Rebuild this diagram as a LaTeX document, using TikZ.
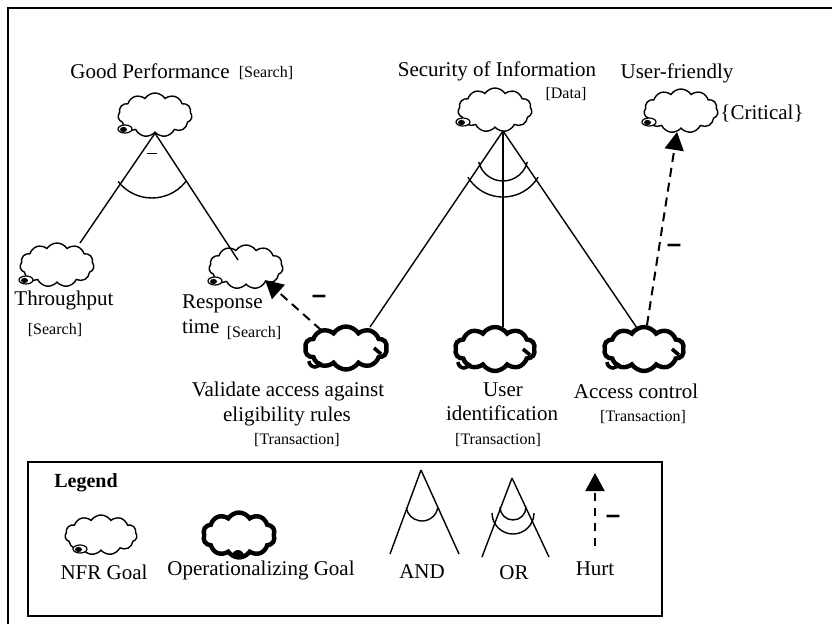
\documentclass[tikz,border=0pt]{standalone}
\usepackage{fontspec}
\setmainfont{Liberation Serif}
\newfontfamily\signfont{Liberation Sans}
\usetikzlibrary{shapes.symbols,arrows.meta,calc}

% small curl drawn at the lower left of an NFR softgoal cloud
\newcommand\nfrcurl[1]{%
  \draw[line width=1.2pt, fill=white] #1 ellipse (7 and 4);
  \fill #1 ++(-1.5,0.5) ellipse (3.5 and 2.6);
}

\begin{document}
\begin{tikzpicture}[x=1pt,y=-1pt,
  txt/.style={font=\fontsize{21}{23}\selectfont, inner sep=0pt},
  tag/.style={font=\fontsize{16}{18}\selectfont, inner sep=0pt},
  nfr/.style={cloud, cloud puffs=11, cloud puff arc=115, draw, line width=1.4pt,
              inner sep=0pt, minimum width=74pt, minimum height=44pt},
  opgoal/.style={nfr, line width=4.4pt, cloud puffs=10},
  link/.style={line width=1.4pt},
  hurt/.style={line width=2pt, dash pattern=on 9pt off 6pt,
               -{Triangle[length=18pt,width=19pt]}},
  sign/.style={font=\signfont\bfseries\fontsize{26}{26}\selectfont, inner sep=0pt},
]
\useasboundingbox (0,0) rectangle (832,624);
\fill[white] (0,0) rectangle (832,624);
\draw[line width=2pt] (8,624) -- (8,8) -- (832,8);

% ---------- softgoals ----------
\node[nfr] (gp)  at (155,115) {};
\node[nfr] (sec) at (495,110) {};
\node[nfr] (uf)  at (681,111) {};
\node[nfr] (tp)  at (57,265)  {};
\node[nfr] (rt)  at (246,267) {};
\nfrcurl{(125,129)}
\nfrcurl{(463,122)}
\nfrcurl{(649,122)}
\nfrcurl{(26,280)}
\nfrcurl{(215,281)}

% ---------- operationalizing goals ----------
\node[opgoal, minimum width=82pt, minimum height=43pt] (val) at (346,348) {};
\node[opgoal, minimum width=80pt] (uid) at (495,349) {};
\node[opgoal, minimum width=80pt] (ac)  at (644,349) {};
\foreach \g in {val,uid,ac}{
  \draw[line width=3.6pt] ($(\g.center)+(-37,13)$) arc[start angle=180,end angle=10,radius=6];
  \draw[line width=3.6pt] ($(\g.center)+(35,6)$) -- ++(-7,-6);
}

% ---------- labels ----------
\node[txt] (gpl) at (150,71) {Good Performance};
\node[tag] at (266,73) {[Search]};
\node[txt] (secl) at (497,71) {Security of Information};
\node[tag] at (566,94) {[Data]};
\node[txt] (ufl) at (677,73) {User-friendly};
\node[txt] at (762,114) {\{Critical\}};
\node[txt] at (64,300) {Throughput};
\node[tag] at (55,330) {[Search]};
\node[txt, anchor=west] at (182,304) {Response};
\node[txt, anchor=west] at (182,327) {time};
\node[tag] at (254,333) {[Search]};
\node[txt] at (288,391) {Validate access against};
\node[txt] at (287,416) {eligibility rules};
\node[tag] at (297,440) {[Transaction]};
\node[txt] at (503,390) {User};
\node[txt] at (502,413) {identification};
\node[tag] at (498,440) {[Transaction]};
\node[txt] at (636,391) {Access control};
\node[tag] at (643,417) {[Transaction]};

% ---------- AND decomposition of Good Performance ----------
\coordinate (gpa) at (gp.south);
\draw[link] (gpa) -- ($(tp.center)+(23,-22)$);
\draw[link] (gpa) -- ($(rt.center)+(-8,-7)$);
\draw[line width=1pt] (147,153) -- (157,153);
\draw[link] (152,155) ++(38:43) arc[start angle=38,end angle=142,radius=43];

% ---------- OR decomposition of Security of Information ----------
\coordinate (seca) at ($(sec.center)+(8,21)$);
\draw[link] (seca) -- ($(val.center)+(24,-21)$);
\draw[link] (seca) -- ($(uid.center)+(8,-22)$);
\draw[link] (seca) -- ($(ac.center)+(-7,-21)$);
\draw[link] (503,156) ++(14:25) arc[start angle=14,end angle=166,radius=25];
\draw[link] (503,156) ++(31:41) arc[start angle=31,end angle=149,radius=41];

% ---------- hurt contributions ----------
\draw[hurt] ($(val.center)+(-25,-18)$) -- ($(rt.center)+(19,13)$);
\node[sign] at (319,299) {–};
\draw[hurt] ($(ac.center)+(3,-24)$) -- ($(uf.center)+(-4,21)$);
\node[sign] at (674,248) {–};

% ---------- legend ----------
\draw[line width=1.6pt] (28,462) rectangle (662,616);
\node[font=\bfseries\fontsize{20}{22}\selectfont, inner sep=0pt] at (86,483) {Legend};

\node[nfr, minimum width=72pt, minimum height=40pt] (lnfr) at (101,535) {};
\nfrcurl{(80,549)}
\node[txt] at (104,572) {NFR Goal};

\node[opgoal, minimum width=72pt, minimum height=45pt] (lop) at (239,535) {};
\fill (232,556) arc[start angle=180,end angle=360,radius=6] -- cycle;
\node[txt] at (261,570) {Operationalizing Goal};

\coordinate (anda) at (421,470);
\draw[link] (anda) -- (390,554);
\draw[link] (anda) -- (459,554);
\draw[link] (422,505) ++(10:16) arc[start angle=10,end angle=170,radius=16];
\node[txt] at (422,572) {AND};

\coordinate (ora) at (512,478);
\draw[link] (ora) -- (482,557);
\draw[link] (ora) -- (549,557);
\draw[link] (513,507) ++(0:13) arc[start angle=0,end angle=180,radius=13];
\draw[link] (513,513) ++(0:21) arc[start angle=0,end angle=180,radius=21];
\node[txt] at (514,573) {OR};

\coordinate (hb) at (595,546);
\coordinate (ht) at (595,473);
\draw[hurt, dash pattern=on 8pt off 7pt] (hb) -- (ht);
\node[sign] at (613,519) {–};
\node[txt] at (595,569) {Hurt};
\end{tikzpicture}
\end{document}
